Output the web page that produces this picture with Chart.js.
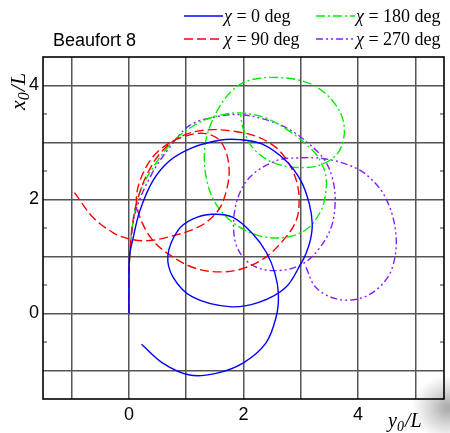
<!DOCTYPE html>
<html>
<head>
<meta charset="utf-8">
<script src="https://cdn.jsdelivr.net/npm/chart.js@4.4.1/dist/chart.umd.min.js"></script>
<style>
html,body{margin:0;padding:0;background:#fff;}
#wrap{width:450px;height:433px;}
</style>
</head>
<body>
<div id="wrap"><canvas id="c" width="450" height="433"></canvas></div>
<script>
// horizontal axis: y0/L, vertical axis: x0/L
const chi0_y0 = [0, 0, 0.01, 0.07, 0.19, 0.42, 0.71, 1.11, 1.58, 1.93, 2.33, 2.74, 3.0, 3.15, 3.2, 3.17, 3.09, 3.0, 2.74, 2.28, 1.75, 1.11, 0.77, 0.68, 0.85, 1.1, 1.45, 1.81, 2.16, 2.40, 2.55, 2.61, 2.57, 2.39, 1.99, 1.52, 1.06, 0.59, 0.22];
const chi0_x0 = [0, 0.5, 1.0, 1.31, 1.80, 2.33, 2.68, 2.91, 3.04, 3.05, 2.97, 2.68, 2.33, 1.92, 1.57, 1.30, 1.05, 0.87, 0.46, 0.20, 0.12, 0.29, 0.64, 1.02, 1.45, 1.65, 1.74, 1.69, 1.40, 1.07, 0.70, 0.33, -0.06, -0.52, -0.87, -1.05, -1.08, -0.87, -0.54];

const chi90_y0 = [0, 0, 0.02, 0.06, 0.15, 0.32, 0.58, 0.94, 1.35, 1.81, 2.22, 2.57, 2.8, 2.94, 2.97, 2.92, 2.74, 2.39, 1.99, 1.58, 1.17, 0.77, 0.42, 0.19, 0.13, 0.22, 0.42, 0.72, 1.05, 1.3, 1.55, 1.69, 1.75, 1.70, 1.58, 1.35, 1.11, 0.83, 0.36, 0.0, -0.28, -0.63, -0.95];
const chi90_x0 = [0, 0.6, 1.1, 1.55, 2.0, 2.45, 2.85, 3.12, 3.22, 3.2, 3.11, 2.91, 2.62, 2.27, 1.92, 1.63, 1.34, 0.99, 0.79, 0.73, 0.79, 0.99, 1.28, 1.69, 2.03, 2.4, 2.75, 3.0, 3.13, 3.16, 3.07, 2.85, 2.5, 2.15, 1.84, 1.6, 1.47, 1.38, 1.28, 1.31, 1.42, 1.69, 2.12];

const chi180_y0 = [0, 0, 0.02, 0.1, 0.22, 0.42, 0.77, 1.17, 1.52, 1.93, 2.39, 2.80, 3.09, 3.3, 3.43, 3.44, 3.35, 3.09, 2.68, 2.22, 1.81, 1.52, 1.36, 1.32, 1.42, 1.70, 2.04, 2.63, 3.21, 3.61, 3.76, 3.67, 3.38, 2.97, 2.51, 2.16, 1.99, 1.95];
const chi180_x0 = [0, 0.6, 1.1, 1.8, 2.2, 2.56, 3.02, 3.32, 3.46, 3.52, 3.43, 3.2, 2.97, 2.75, 2.45, 2.15, 1.8, 1.47, 1.33, 1.38, 1.6, 1.92, 2.33, 2.85, 3.3, 3.8, 4.07, 4.14, 4.01, 3.66, 3.26, 2.85, 2.62, 2.56, 2.65, 2.91, 3.26, 3.5];

const chi270_y0 = [0, 0, 0.02, 0.12, 0.4, 0.7, 1.06, 1.52, 1.93, 2.39, 2.8, 3.15, 3.41, 3.55, 3.6, 3.53, 3.29, 3.03, 2.68, 2.28, 1.99, 1.84, 1.87, 2.1, 2.57, 2.97, 3.38, 3.79, 4.14, 4.48, 4.66, 4.60, 4.37, 4.02, 3.61, 3.26, 3.09];
const chi270_x0 = [0, 0.6, 1.1, 1.8, 2.45, 2.9, 3.3, 3.45, 3.49, 3.40, 3.23, 2.97, 2.7, 2.38, 1.98, 1.51, 1.10, 0.87, 0.76, 0.79, 0.99, 1.34, 1.92, 2.38, 2.68, 2.73, 2.72, 2.62, 2.44, 2.03, 1.40, 0.81, 0.46, 0.26, 0.26, 0.46, 0.81];

const xTicks = [-1, 0, 1, 2, 3, 4, 5];
const yTicks = [-1, 0, 1, 2, 3, 4];
const labelledTicks = [0, 2, 4];
const minorTicks = [-0.5, 0.5, 1.5, 2.5, 3.5];
const seriesLabels = ['0', '90', '180', '270'];

function zip(a, b) { return a.map((v, i) => ({x: v, y: b[i]})); }

const styles = [
  {color: '#0000ff', dash: []},
  {color: '#ff0000', dash: [9, 4]},
  {color: '#00ee00', dash: [9, 3, 2, 3]},
  {color: '#8a1cff', dash: [7, 3, 2, 3, 2, 3]}
];
const seriesData = [zip(chi0_y0, chi0_x0), zip(chi90_y0, chi90_x0), zip(chi180_y0, chi180_x0), zip(chi270_y0, chi270_x0)];

const datasets = seriesData.map((d, i) => ({
  label: '\u03C7 = ' + seriesLabels[i] + ' deg',
  data: d,
  showLine: true,
  fill: false,
  pointRadius: 0,
  borderColor: styles[i].color,
  borderWidth: 1.4,
  borderDash: styles[i].dash,
  tension: 0.35
}));

const decor = {
  id: 'decor',
  beforeDraw(chart) {
    const ctx = chart.ctx;
    ctx.save();
    ctx.translate(448, 408);
    ctx.scale(1, 0.9);
    const g = ctx.createRadialGradient(0, 0, 2, 0, 0, 36);
    g.addColorStop(0, 'rgba(0,0,0,0.32)');
    g.addColorStop(0.5, 'rgba(0,0,0,0.15)');
    g.addColorStop(1, 'rgba(0,0,0,0)');
    ctx.fillStyle = g;
    ctx.fillRect(-50, -50, 60, 100);
    ctx.restore();
  },
  afterDraw(chart) {
    const ctx = chart.ctx;
    const a = chart.chartArea;
    const ys = chart.scales.y;
    ctx.save();
    // minor ticks on left and right
    ctx.strokeStyle = '#333';
    ctx.lineWidth = 1.2;
    minorTicks.forEach(v => {
      const py = ys.getPixelForValue(v);
      ctx.beginPath();
      ctx.moveTo(a.left, py); ctx.lineTo(a.left + 4, py);
      ctx.moveTo(a.right, py); ctx.lineTo(a.right - 4, py);
      ctx.stroke();
    });
    // frame
    ctx.strokeStyle = '#000';
    ctx.lineWidth = 1.6;
    ctx.strokeRect(a.left, a.top, a.right - a.left, a.bottom - a.top);

    // Beaufort label
    ctx.fillStyle = '#000';
    ctx.font = '18px "Liberation Sans", Arial, sans-serif';
    ctx.textBaseline = 'alphabetic';
    ctx.textAlign = 'left';
    ctx.fillText('Beaufort 8', 53, 46);

    // legend
    const leg = [
      {i: 0, x: 184, y: 16},
      {i: 2, x: 316, y: 16},
      {i: 1, x: 184, y: 39},
      {i: 3, x: 316, y: 39}
    ];
    leg.forEach(L => {
      const s = styles[L.i];
      ctx.strokeStyle = s.color;
      ctx.lineWidth = 1.4;
      ctx.setLineDash(s.dash);
      ctx.beginPath();
      ctx.moveTo(L.x, L.y); ctx.lineTo(L.x + 39, L.y);
      ctx.stroke();
      ctx.setLineDash([]);
      ctx.fillStyle = '#000';
      let tx = L.x + 40;
      ctx.font = 'italic 18px "Liberation Serif", "Times New Roman", serif';
      ctx.fillText('\u03C7', tx, L.y + 6);
      tx += ctx.measureText('\u03C7').width;
      ctx.font = '18px "Liberation Serif", "Times New Roman", serif';
      ctx.fillText(' = ' + seriesLabels[L.i] + ' deg', tx, L.y + 6);
    });

    // axis titles
    function drawSub(x, y, size, main, sub, rest) {
      let cx = x;
      ctx.font = 'italic ' + size + 'px "Liberation Serif", "Times New Roman", serif';
      ctx.fillText(main, cx, y);
      cx += ctx.measureText(main).width;
      ctx.font = 'italic ' + Math.round(size * 0.72) + 'px "Liberation Serif", "Times New Roman", serif';
      ctx.fillText(sub, cx, y + 4);
      cx += ctx.measureText(sub).width + 1;
      ctx.font = 'italic ' + size + 'px "Liberation Serif", "Times New Roman", serif';
      ctx.fillText(rest, cx, y);
    }
    ctx.fillStyle = '#000';
    ctx.textAlign = 'left';
    drawSub(388, 427, 20, 'y', '0', '/L');
    ctx.save();
    ctx.translate(25, 110);
    ctx.rotate(-Math.PI / 2);
    drawSub(0, 0, 22, 'x', '0', '/L');
    ctx.restore();
    ctx.restore();
  }
};

new Chart(document.getElementById('c'), {
  type: 'scatter',
  data: {datasets},
  options: {
    responsive: false,
    animation: false,
    devicePixelRatio: 1,
    layout: {padding: {left: 0, right: 6, top: 57, bottom: 0}},
    plugins: {legend: {display: false}, tooltip: {enabled: false}},
    scales: {
      x: {
        type: 'linear', min: -1.5, max: 5.5,
        afterBuildTicks: s => { s.ticks = xTicks.map(v => ({value: v})); },
        afterFit: s => { s.height = 34; },
        grid: {color: '#555', lineWidth: 1.5, drawTicks: false},
        border: {display: false},
        ticks: {
          autoSkip: false, maxRotation: 0, padding: 5, color: '#000',
          font: {family: '"Liberation Sans", Arial, sans-serif', size: 18},
          callback: v => labelledTicks.includes(v) ? String(v) : ''
        }
      },
      y: {
        type: 'linear', min: -1.5, max: 4.5,
        afterBuildTicks: s => { s.ticks = yTicks.map(v => ({value: v})); },
        afterFit: s => { s.width = 43; },
        grid: {color: '#555', lineWidth: 1.5, drawTicks: false},
        border: {display: false},
        ticks: {
          autoSkip: false, padding: 4, color: '#000',
          font: {family: '"Liberation Sans", Arial, sans-serif', size: 18},
          callback: v => labelledTicks.includes(v) ? String(v) : ''
        }
      }
    }
  },
  plugins: [decor]
});
</script>
</body>
</html>
